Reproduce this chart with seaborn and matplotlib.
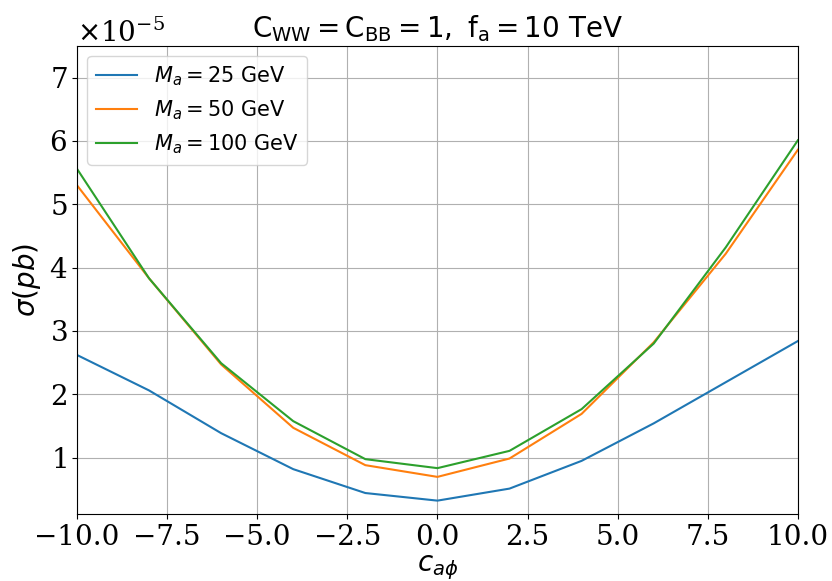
import numpy as np
import pandas as pd
import matplotlib
matplotlib.use("Agg")
import matplotlib.pyplot as plt
import seaborn as sns

# --- Data ---
c_aphi = [-10, -8, -6, -4, -2, 0, 2, 4, 6, 8, 10]
sigma_25 = [2.62, 2.06, 1.385, 0.817, 0.44, 0.32, 0.51, 0.948, 1.54, 2.19, 2.84]
sigma_50 = [5.30, 3.83, 2.47, 1.47, 0.88, 0.695, 0.985, 1.69, 2.82, 4.22, 5.86]
sigma_100 = [5.56, 3.83, 2.49, 1.575, 0.975, 0.833, 1.106, 1.765, 2.80, 4.32, 6.01]
labels = [r"$M_a = 25$ GeV", r"$M_a = 50$ GeV", r"$M_a = 100$ GeV"]
SCALE = 1e-5

frames = []
for lab, vals in zip(labels, [sigma_25, sigma_50, sigma_100]):
    frames.append(pd.DataFrame({"c": c_aphi, "sigma": np.array(vals) * SCALE, "mass": lab}))
df = pd.concat(frames, ignore_index=True)

fig, ax = plt.subplots(figsize=(8.32, 5.81), dpi=100)
sns.lineplot(data=df, x="c", y="sigma", hue="mass", palette="tab10",
             linewidth=1.5, ax=ax)

ax.set_xlim(-10, 10)
ax.set_ylim(0.106e-5, 7.5e-5)
ax.grid(True, color="#b0b0b0", linewidth=0.8)
ax.ticklabel_format(axis="y", style="sci", scilimits=(0, 0), useMathText=True)

ax.set_xlabel(r"$c_{a\phi}$", fontsize=20, labelpad=2)
ax.set_ylabel(r"$\sigma(pb)$", fontsize=20)
ax.set_title(r"$\mathrm{C_{WW} = C_{BB} = 1,\ f_a = 10\ TeV}$", fontsize=20)

for lab in ax.get_xticklabels() + ax.get_yticklabels():
    lab.set_family("DejaVu Serif")
    lab.set_fontsize(20)
off = ax.yaxis.get_offset_text()
off.set_family("DejaVu Serif")
off.set_fontsize(20)

ax.legend(title=None, fontsize=15, loc="upper left")

fig.subplots_adjust(left=0.0925, right=0.959, bottom=0.115, top=0.921)
fig.savefig("out.png", dpi=100)
